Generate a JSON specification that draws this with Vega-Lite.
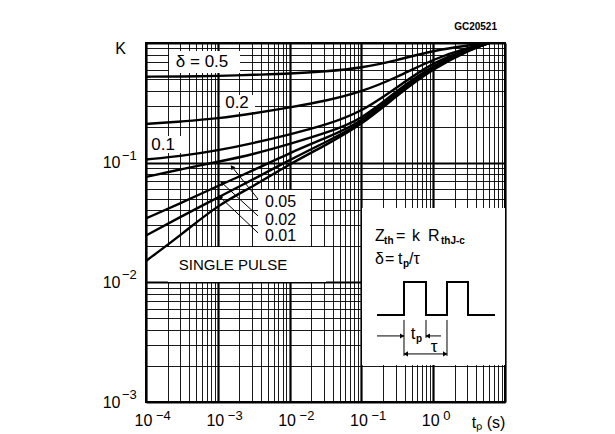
{
  "$schema": "https://vega.github.io/schema/vega-lite/v6.json",
  "width": 359,
  "height": 359,
  "autosize": {"type": "none"},
  "padding": {"left": 146, "top": 43, "right": 110, "bottom": 32},
  "background": "white",
  "config": {"view": {"stroke": "black", "strokeWidth": 2}, "font": "Liberation Sans"},
  "title": {"text": "GC20521", "anchor": "end", "fontSize": 10, "fontWeight": "bold", "font": "Liberation Sans", "color": "black", "offset": 3, "dx": -8},
  "datasets": {
    "curves": [
      {"d": "0.5", "t": 0.0001, "k": 0.523}, {"d": "0.5", "t": 0.00032, "k": 0.525}, {"d": "0.5", "t": 0.001, "k": 0.53}, {"d": "0.5", "t": 0.0032, "k": 0.543}, {"d": "0.5", "t": 0.01, "k": 0.553}, {"d": "0.5", "t": 0.032, "k": 0.578}, {"d": "0.5", "t": 0.1, "k": 0.618}, {"d": "0.5", "t": 0.32, "k": 0.72}, {"d": "0.5", "t": 1, "k": 0.866}, {"d": "0.5", "t": 3.2, "k": 0.957}, {"d": "0.5", "t": 6, "k": 1.0},
      {"d": "0.2", "t": 0.0001, "k": 0.2105}, {"d": "0.2", "t": 0.00032, "k": 0.221}, {"d": "0.2", "t": 0.001, "k": 0.234}, {"d": "0.2", "t": 0.0032, "k": 0.258}, {"d": "0.2", "t": 0.01, "k": 0.289}, {"d": "0.2", "t": 0.032, "k": 0.328}, {"d": "0.2", "t": 0.1, "k": 0.39}, {"d": "0.2", "t": 0.32, "k": 0.52}, {"d": "0.2", "t": 1, "k": 0.735}, {"d": "0.2", "t": 3.2, "k": 0.926}, {"d": "0.2", "t": 6, "k": 1.0},
      {"d": "0.1", "t": 0.0001, "k": 0.1063}, {"d": "0.1", "t": 0.00032, "k": 0.1138}, {"d": "0.1", "t": 0.001, "k": 0.1264}, {"d": "0.1", "t": 0.0032, "k": 0.146}, {"d": "0.1", "t": 0.01, "k": 0.172}, {"d": "0.1", "t": 0.032, "k": 0.2065}, {"d": "0.1", "t": 0.1, "k": 0.265}, {"d": "0.1", "t": 0.32, "k": 0.43}, {"d": "0.1", "t": 1, "k": 0.694}, {"d": "0.1", "t": 3.2, "k": 0.9}, {"d": "0.1", "t": 6, "k": 1.0},
      {"d": "0.05", "t": 0.0001, "k": 0.076}, {"d": "0.05", "t": 0.00032, "k": 0.0886}, {"d": "0.05", "t": 0.001, "k": 0.1014}, {"d": "0.05", "t": 0.0032, "k": 0.118}, {"d": "0.05", "t": 0.01, "k": 0.143}, {"d": "0.05", "t": 0.032, "k": 0.177}, {"d": "0.05", "t": 0.1, "k": 0.227}, {"d": "0.05", "t": 0.32, "k": 0.405}, {"d": "0.05", "t": 1, "k": 0.655}, {"d": "0.05", "t": 3.2, "k": 0.89}, {"d": "0.05", "t": 6, "k": 1.0},
      {"d": "0.02", "t": 0.0001, "k": 0.0342}, {"d": "0.02", "t": 0.00032, "k": 0.0465}, {"d": "0.02", "t": 0.001, "k": 0.0639}, {"d": "0.02", "t": 0.0032, "k": 0.0869}, {"d": "0.02", "t": 0.01, "k": 0.1205}, {"d": "0.02", "t": 0.032, "k": 0.161}, {"d": "0.02", "t": 0.1, "k": 0.217}, {"d": "0.02", "t": 0.32, "k": 0.39}, {"d": "0.02", "t": 1, "k": 0.636}, {"d": "0.02", "t": 3.2, "k": 0.885}, {"d": "0.02", "t": 6, "k": 1.0},
      {"d": "0.01", "t": 0.0001, "k": 0.0246}, {"d": "0.01", "t": 0.00032, "k": 0.0359}, {"d": "0.01", "t": 0.001, "k": 0.0512}, {"d": "0.01", "t": 0.0032, "k": 0.0731}, {"d": "0.01", "t": 0.01, "k": 0.1053}, {"d": "0.01", "t": 0.032, "k": 0.149}, {"d": "0.01", "t": 0.1, "k": 0.2105}, {"d": "0.01", "t": 0.32, "k": 0.378}, {"d": "0.01", "t": 1, "k": 0.624}, {"d": "0.01", "t": 3.2, "k": 0.88}, {"d": "0.01", "t": 6, "k": 1.0},
      {"d": "single", "t": 0.0001, "k": 0.0151}, {"d": "single", "t": 0.00032, "k": 0.0254}, {"d": "single", "t": 0.001, "k": 0.0443}, {"d": "single", "t": 0.0032, "k": 0.0639}, {"d": "single", "t": 0.01, "k": 0.0975}, {"d": "single", "t": 0.032, "k": 0.1405}, {"d": "single", "t": 0.1, "k": 0.2065}, {"d": "single", "t": 0.32, "k": 0.368}, {"d": "single", "t": 1, "k": 0.612}, {"d": "single", "t": 3.2, "k": 0.875}, {"d": "single", "t": 6, "k": 1.0}
    ],
    "boxes": [
      {"t1": 0.000209, "t2": 0.00204, "k1": 0.5615, "k2": 0.857},
      {"t1": 0.00107, "t2": 0.0033, "k1": 0.265, "k2": 0.3677},
      {"t1": 0.000107, "t2": 0.000317, "k1": 0.1205, "k2": 0.167},
      {"t1": 0.00363, "t2": 0.0192, "k1": 0.0201, "k2": 0.0591},
      {"t1": 0.000202, "t2": 0.0321, "k1": 0.01008, "k2": 0.01976},
      {"t1": 0.102, "t2": 10, "k1": 0.00204, "k2": 0.0418}
    ],
    "segs": [
      {"t1": 0.00363, "k1": 0.0497, "t2": 0.00158, "k2": 0.092},
      {"t1": 0.00363, "k1": 0.0359, "t2": 0.001145, "k2": 0.0677},
      {"t1": 0.00363, "k1": 0.0259, "t2": 0.001074, "k2": 0.0517},
      {"t1": 0.165, "k1": 0.003565, "t2": 0.392, "k2": 0.003565},
      {"t1": 0.794, "k1": 0.003565, "t2": 1.284, "k2": 0.003565},
      {"t1": 0.392, "k1": 0.004852, "t2": 0.392, "k2": 0.002427},
      {"t1": 0.794, "k1": 0.004852, "t2": 0.794, "k2": 0.003432},
      {"t1": 1.556, "k1": 0.004852, "t2": 1.556, "k2": 0.002427},
      {"t1": 0.392, "k1": 0.002522, "t2": 1.556, "k2": 0.002522}
    ],
    "heads": [
      {"t": 0.00158, "k": 0.092, "ang": 322},
      {"t": 0.001145, "k": 0.0677, "ang": 313},
      {"t": 0.001074, "k": 0.0517, "ang": 314},
      {"t": 0.37, "k": 0.003565, "ang": 90},
      {"t": 0.84, "k": 0.003565, "ang": 270},
      {"t": 0.415, "k": 0.002522, "ang": 270},
      {"t": 1.47, "k": 0.002522, "ang": 90}
    ],
    "pulse": [
      {"o": 1, "t": 0.165, "k": 0.00534}, {"o": 2, "t": 0.392, "k": 0.00534}, {"o": 3, "t": 0.392, "k": 0.01008}, {"o": 4, "t": 0.794, "k": 0.01008}, {"o": 5, "t": 0.794, "k": 0.00534}, {"o": 6, "t": 1.556, "k": 0.00534}, {"o": 7, "t": 1.556, "k": 0.01008}, {"o": 8, "t": 3.052, "k": 0.01008}, {"o": 9, "t": 3.052, "k": 0.00534}, {"o": 10, "t": 7.256, "k": 0.00534}
    ],
    "ctext": [
      {"t": 0.000603, "k": 0.698, "s": "δ = 0.5"},
      {"t": 0.00185, "k": 0.315, "s": "0.2"},
      {"t": 0.000173, "k": 0.1405, "s": "0.1"},
      {"t": 0.523, "k": 0.003707, "s": "t"},
      {"t": 1.026, "k": 0.002886, "s": "τ"}
    ],
    "ltext": [
      {"t": 0.00454, "k": 0.0465, "s": "0.05"},
      {"t": 0.00454, "k": 0.0335, "s": "0.02"},
      {"t": 0.00454, "k": 0.0242, "s": "0.01"}
    ],
    "ftext": [
      {"t": 0.1547, "k": 0.02218, "s": "Z"},
      {"t": 0.303, "k": 0.02218, "s": "="},
      {"t": 0.5066, "k": 0.02218, "s": "k"},
      {"t": 0.8466, "k": 0.02218, "s": "R"},
      {"t": 0.1547, "k": 0.01424, "s": "δ"},
      {"t": 0.2132, "k": 0.01424, "s": "="},
      {"t": 0.3233, "k": 0.01424, "s": "t"},
      {"t": 0.46, "k": 0.01424, "s": "/τ"}
    ],
    "stext": [
      {"t": 0.207, "k": 0.02093, "s": "th"},
      {"t": 1.284, "k": 0.02093, "s": "thJ-c"},
      {"t": 0.379, "k": 0.01345, "s": "p"},
      {"t": 0.576, "k": 0.003177, "s": "p"}
    ],
    "single": [
      {"t": 0.00163, "k": 0.01398, "s": "SINGLE  PULSE"}
    ],
    "xsup": [
      {"t": 0.0001, "s": "−4"}, {"t": 0.001, "s": "−3"}, {"t": 0.01, "s": "−2"}, {"t": 0.1, "s": "−1"}, {"t": 1, "s": "0"}
    ],
    "ysup": [
      {"k": 0.1, "s": "−1"}, {"k": 0.01, "s": "−2"}, {"k": 0.001, "s": "−3"}
    ]
  },
  "layer": [
    {
      "data": {"name": "boxes"},
      "mark": {"type": "rect", "fill": "white", "stroke": null},
      "encoding": {
        "x": {
          "field": "t1", "type": "quantitative",
          "scale": {"type": "log", "domain": [0.0001, 10]},
          "axis": {
            "values": [0.0001,0.0002,0.0003,0.0004,0.0005,0.0006,0.0007,0.0008,0.0009,0.001,0.002,0.003,0.004,0.005,0.006,0.007,0.008,0.009,0.01,0.02,0.03,0.04,0.05,0.06,0.07,0.08,0.09,0.1,0.2,0.3,0.4,0.5,0.6,0.7,0.8,0.9,1,2,3,4,5,6,7,8,9,10],
            "labelExpr": "abs(log(datum.value)/LN10 - round(log(datum.value)/LN10)) > 0.001 || datum.value > 5 ? '' : '10'",
            "grid": true, "gridColor": "black", "gridOpacity": 1,
            "gridWidth": {"condition": {"test": "abs(log(datum.value)/LN10 - round(log(datum.value)/LN10)) < 0.001", "value": 2.2}, "value": 0.9},
            "ticks": false, "domain": false,
            "labelFont": "Liberation Sans", "labelFontSize": 16, "labelColor": "black",
            "labelAlign": "center", "labelOffset": -3, "labelPadding": 10,
            "labelOverlap": false, "labelFlush": false, "labelBound": false,
            "title": "tₚ (s)", "titleFont": "Liberation Sans", "titleFontSize": 16, "titleFontWeight": "normal", "titleColor": "black",
            "titleX": 342, "titleY": 25, "titleAlign": "center", "titleBaseline": "alphabetic"
          }
        },
        "x2": {"field": "t2"},
        "y": {
          "field": "k1", "type": "quantitative",
          "scale": {"type": "log", "domain": [0.001, 1]},
          "axis": {
            "values": [0.001,0.002,0.003,0.004,0.005,0.006,0.007,0.008,0.009,0.01,0.02,0.03,0.04,0.05,0.06,0.07,0.08,0.09,0.1,0.2,0.3,0.4,0.5,0.6,0.7,0.8,0.9,1],
            "labelExpr": "abs(log(datum.value)/LN10 - round(log(datum.value)/LN10)) > 0.001 || datum.value > 0.5 ? '' : '10'",
            "grid": true, "gridColor": "black", "gridOpacity": 1,
            "gridWidth": {"condition": {"test": "abs(log(datum.value)/LN10 - round(log(datum.value)/LN10)) < 0.001", "value": 2.2}, "value": 0.9},
            "ticks": false, "domain": false,
            "labelFont": "Liberation Sans", "labelFontSize": 16, "labelColor": "black",
            "labelPadding": 26, "labelOverlap": false, "labelFlush": false, "labelBound": false,
            "title": "K", "titleFont": "Liberation Sans", "titleFontSize": 16, "titleFontWeight": "normal", "titleColor": "black",
            "titleAngle": 0, "titleX": -26, "titleY": 5, "titleAlign": "center", "titleBaseline": "middle"
          }
        },
        "y2": {"field": "k2"}
      }
    },
    {
      "data": {"name": "curves"},
      "mark": {"type": "line", "color": "black", "strokeWidth": 2.4, "interpolate": "basis", "clip": true},
      "encoding": {
        "x": {"field": "t", "type": "quantitative"},
        "y": {"field": "k", "type": "quantitative"},
        "detail": {"field": "d"}
      }
    },
    {
      "data": {"name": "segs"},
      "mark": {"type": "rule", "color": "black", "strokeWidth": 1},
      "encoding": {
        "x": {"field": "t1", "type": "quantitative"},
        "x2": {"field": "t2"},
        "y": {"field": "k1", "type": "quantitative"},
        "y2": {"field": "k2"}
      }
    },
    {
      "data": {"name": "heads"},
      "mark": {"type": "point", "shape": "triangle-up", "filled": true, "color": "black", "opacity": 1, "size": 26},
      "encoding": {
        "x": {"field": "t", "type": "quantitative"},
        "y": {"field": "k", "type": "quantitative"},
        "angle": {"field": "ang", "type": "quantitative", "scale": null}
      }
    },
    {
      "data": {"name": "pulse"},
      "mark": {"type": "line", "color": "black", "strokeWidth": 2},
      "encoding": {
        "x": {"field": "t", "type": "quantitative"},
        "y": {"field": "k", "type": "quantitative"},
        "order": {"field": "o", "type": "quantitative"}
      }
    },
    {
      "data": {"name": "ctext"},
      "mark": {"type": "text", "font": "Liberation Sans", "fontSize": 17, "color": "black", "align": "center", "baseline": "middle"},
      "encoding": {
        "x": {"field": "t", "type": "quantitative"},
        "y": {"field": "k", "type": "quantitative"},
        "text": {"field": "s"}
      }
    },
    {
      "data": {"name": "ltext"},
      "mark": {"type": "text", "font": "Liberation Sans", "fontSize": 16, "color": "black", "align": "left", "baseline": "middle"},
      "encoding": {
        "x": {"field": "t", "type": "quantitative"},
        "y": {"field": "k", "type": "quantitative"},
        "text": {"field": "s"}
      }
    },
    {
      "data": {"name": "single"},
      "mark": {"type": "text", "font": "Liberation Sans", "fontSize": 15, "color": "black", "align": "center", "baseline": "middle"},
      "encoding": {
        "x": {"field": "t", "type": "quantitative"},
        "y": {"field": "k", "type": "quantitative"},
        "text": {"field": "s"}
      }
    },
    {
      "data": {"name": "ftext"},
      "mark": {"type": "text", "font": "Liberation Sans", "fontSize": 16, "color": "black", "align": "left", "baseline": "alphabetic"},
      "encoding": {
        "x": {"field": "t", "type": "quantitative"},
        "y": {"field": "k", "type": "quantitative"},
        "text": {"field": "s"}
      }
    },
    {
      "data": {"name": "stext"},
      "mark": {"type": "text", "font": "Liberation Sans", "fontSize": 10, "fontWeight": "bold", "color": "black", "align": "left", "baseline": "alphabetic"},
      "encoding": {
        "x": {"field": "t", "type": "quantitative"},
        "y": {"field": "k", "type": "quantitative"},
        "text": {"field": "s"}
      }
    },
    {
      "data": {"name": "xsup"},
      "mark": {"type": "text", "font": "Liberation Sans", "fontSize": 13, "color": "black", "align": "left", "baseline": "middle", "dx": 10, "dy": 14},
      "encoding": {
        "x": {"field": "t", "type": "quantitative"},
        "y": {"datum": 0.001, "type": "quantitative"},
        "text": {"field": "s"}
      }
    },
    {
      "data": {"name": "ysup"},
      "mark": {"type": "text", "font": "Liberation Sans", "fontSize": 13, "color": "black", "align": "left", "baseline": "middle", "dx": -24, "dy": -7},
      "encoding": {
        "x": {"datum": 0.0001, "type": "quantitative"},
        "y": {"field": "k", "type": "quantitative"},
        "text": {"field": "s"}
      }
    }
  ]
}
